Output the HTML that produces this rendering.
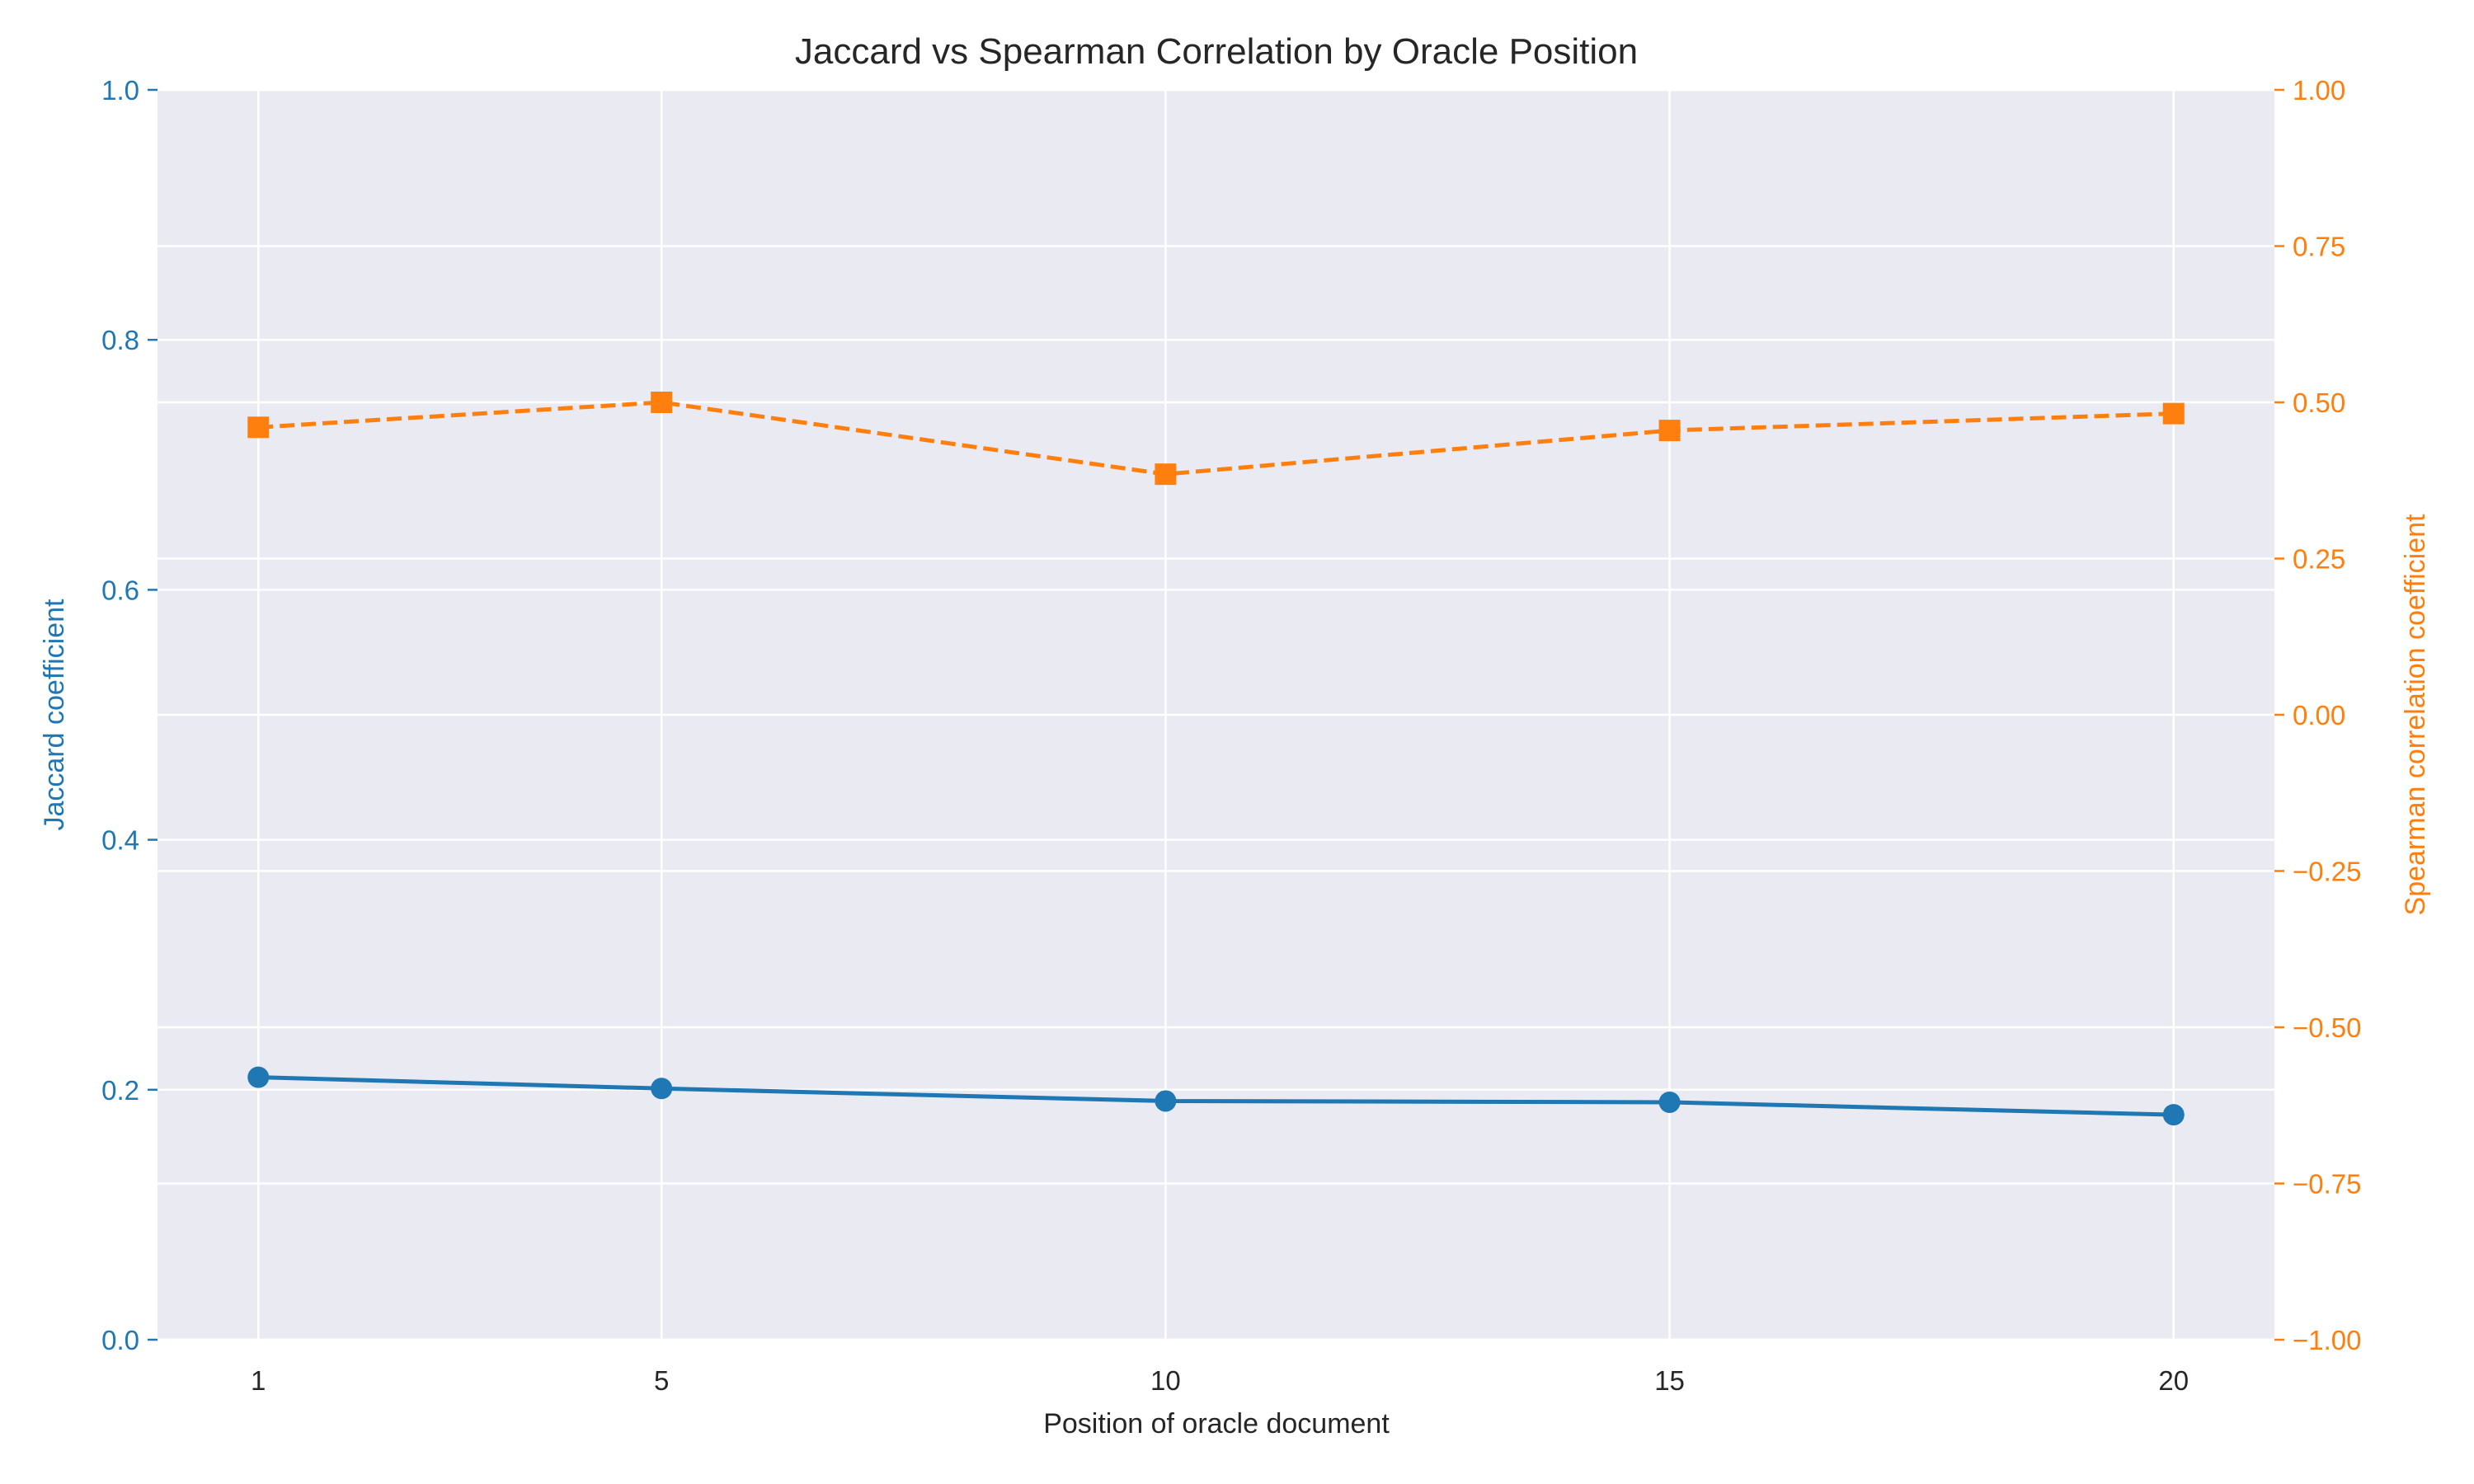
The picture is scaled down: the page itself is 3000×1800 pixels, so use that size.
<!DOCTYPE html>
<html><head><meta charset="utf-8"><style>
body{margin:0;background:#fff;}
svg{display:block;font-family:"Liberation Sans",sans-serif;}
</style></head><body>
<svg id="chart" width="3000" height="1800" viewBox="0 0 3000 1800" xmlns="http://www.w3.org/2000/svg">
<rect x="191" y="109" width="2567" height="1516" fill="#eaeaf2"/>
<g id="grid"></g><g id="axes"></g><g id="series"></g>
<text x="1475" y="77" text-anchor="middle" font-size="44" fill="#262626">Jaccard vs Spearman Correlation by Oracle Position</text>
<text x="1475" y="1738" text-anchor="middle" font-size="34" fill="#262626">Position of oracle document</text>
<text transform="translate(77,867) rotate(-90)" text-anchor="middle" font-size="34" fill="#1f77b4">Jaccard coefficient</text>
<text transform="translate(2940,867) rotate(-90)" text-anchor="middle" font-size="34" fill="#ff7f0e">Spearman correlation coefficient</text>
</svg>
<script>
const positions=[1,5,10,15,20];
const jaccard=[0.21,0.201,0.191,0.19,0.18];
const spearman=[0.46,0.50,0.385,0.455,0.482];
const yLeftTicks=[0,0.2,0.4,0.6,0.8,1.0];
const yLeftLabels=["0.0","0.2","0.4","0.6","0.8","1.0"];
const yRightTicks=[-1,-0.75,-0.5,-0.25,0,0.25,0.5,0.75,1];
const yRightLabels=["\u22121.00","\u22120.75","\u22120.50","\u22120.25","0.00","0.25","0.50","0.75","1.00"];
const NS="http://www.w3.org/2000/svg";
const L=191,R=2758,T=109,B=1625;
const xs=v=>L+(v-0)/(21-0)*(R-L);
const yl=v=>B-v*(B-T);
const yr=v=>B-(v+1)/2*(B-T);
function mk(tag,attrs,parent,text){const e=document.createElementNS(NS,tag);for(const k in attrs)e.setAttribute(k,attrs[k]);if(text!==undefined)e.textContent=text;document.getElementById(parent).appendChild(e);return e;}
positions.forEach((p,i)=>{
 const g=mk('line',{x1:xs(p),x2:xs(p),y1:T,y2:B,stroke:'#fff','stroke-width':2.5},'grid');
 
 
 const t=mk('text',{x:xs(p),y:1686,'text-anchor':'middle','font-size':33,fill:'#262626'},'axes',String(p));
 
 
});
yLeftTicks.forEach((v,i)=>{
 const g=mk('line',{x1:L,x2:R,y1:yl(v),y2:yl(v),stroke:'#fff','stroke-width':2.5},'grid');
 
 
 const k=mk('line',{x1:L-12,x2:L,y1:yl(v),y2:yl(v),stroke:'#1f77b4','stroke-width':2.5},'axes');
 
 
 const t=mk('text',{x:L-22,y:yl(v)+12,'text-anchor':'end','font-size':33,fill:'#1f77b4'},'axes',yLeftLabels[i]);
 
 
});
yRightTicks.forEach((v,i)=>{
 const g=mk('line',{x1:L,x2:R,y1:yr(v),y2:yr(v),stroke:'#fff','stroke-width':2.5},'grid');
 
 
 const k=mk('line',{x1:R,x2:R+12,y1:yr(v),y2:yr(v),stroke:'#ff7f0e','stroke-width':2.5},'axes');
 
 
 const t=mk('text',{x:R+22,y:yr(v)+12,'text-anchor':'start','font-size':33,fill:'#ff7f0e'},'axes',yRightLabels[i]);
 
 
});
const jl=mk('polyline',{points:positions.map((p,i)=>xs(p)+','+yl(jaccard[i])).join(' '),fill:'none',stroke:'#1f77b4','stroke-width':5},'series');


const sl=mk('polyline',{points:positions.map((p,i)=>xs(p)+','+yr(spearman[i])).join(' '),fill:'none',stroke:'#ff7f0e','stroke-width':5,'stroke-dasharray':'18,8'},'series');


positions.forEach((p,i)=>{
 const c=mk('circle',{cx:xs(p),cy:yl(jaccard[i]),r:13,fill:'#1f77b4'},'series');
 
 
 const s=mk('rect',{x:xs(p)-13,y:yr(spearman[i])-13,width:26,height:26,fill:'#ff7f0e'},'series');
 
 
});
</script>
</body></html>
